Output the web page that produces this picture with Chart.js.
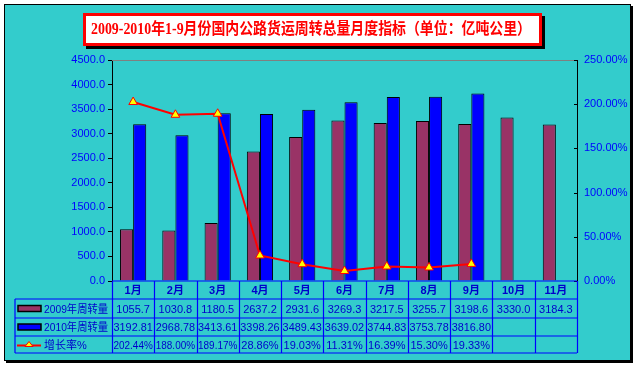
<!DOCTYPE html>
<html>
<head>
<meta charset="utf-8">
<script src="https://cdn.jsdelivr.net/npm/chart.js@4.4.0/dist/chart.umd.min.js"></script>
<style>
  html, body { margin: 0; padding: 0; background: #ffffff; }
  #wrap { width: 638px; height: 368px; }
</style>
</head>
<body>
<div id="wrap"><canvas id="chart" width="638" height="368"></canvas></div>
<script>
// 数据
const months = ['1月', '2月', '3月', '4月', '5月', '6月', '7月', '8月', '9月', '10月', '11月'];
const vol2009 = [1055.7, 1030.8, 1180.5, 2637.2, 2931.6, 3269.3, 3217.5, 3255.7, 3198.6, 3330.0, 3184.3];
const vol2010 = [3192.81, 2968.78, 3413.61, 3398.26, 3489.43, 3639.02, 3744.83, 3753.78, 3816.80, null, null];
const growth = [202.44, 188.00, 189.17, 28.86, 19.03, 11.31, 16.39, 15.30, 19.33, null, null];
const seriesNames = ['2009年周转量', '2010年周转量', '增长率%'];
const title = '2009-2010年1-9月份国内公路货运周转总量月度指标（单位：亿吨公里）';

const BLUE = '#0000ff';
const TXT = '#0000cc';
const FONT = '"Liberation Sans", Arial, sans-serif';

// 背景、标题、数据表
const decor = {
    id: 'decor',
    beforeDraw(chart) {
        const c = chart.ctx;
        c.save();
        c.fillStyle = '#ffffff';
        c.fillRect(0, 0, 638, 368);
        // 外框 + 阴影
        c.fillStyle = '#000';
        c.fillRect(6, 6, 627, 357);
        c.fillStyle = '#33cccc';
        c.fillRect(4, 4, 626, 356);
        c.strokeStyle = '#000';
        c.lineWidth = 1;
        c.strokeRect(4.5, 4.5, 626, 356);
        // 标题框
        c.fillStyle = '#000';
        c.fillRect(86, 16, 459, 33);
        c.fillStyle = '#ff0000';
        c.fillRect(83, 13, 459, 33);
        c.fillStyle = '#ffffff';
        c.fillRect(86, 16, 453, 27);
        c.fillStyle = '#ff0000';
        c.font = 'bold 16px "Liberation Serif", "Noto Sans CJK SC", serif';
        c.textAlign = 'center';
        c.textBaseline = 'middle';
        c.fillText(title, 311, 30, 440);
        c.restore();
    },
    afterDatasetsDraw(chart) {
        const c = chart.ctx;
        const a = chart.chartArea;
        const x = chart.scales.x;
        c.save();
        // 顶部灰线
        c.strokeStyle = '#808080';
        c.lineWidth = 1;
        c.beginPath();
        c.moveTo(a.left, a.top + 0.5);
        c.lineTo(a.right, a.top + 0.5);
        c.stroke();
        // 右轴内侧刻度
        c.strokeStyle = '#000';
        const y1 = chart.scales.y1;
        y1.ticks.forEach(t => {
            const py = Math.round(y1.getPixelForValue(t.value)) + 0.5;
            c.beginPath();
            c.moveTo(a.right - 3, py);
            c.lineTo(a.right, py);
            c.stroke();
        });

        // 数据表
        const rows = [a.bottom, 299, 318, 336, 353];
        const legendLeft = 15;
        const n = months.length;
        const colW = (a.right - a.left) / n;
        c.strokeStyle = BLUE;
        c.lineWidth = 1.2;
        c.beginPath();
        // 横线
        c.moveTo(a.left, rows[0]);
        c.lineTo(a.right, rows[0]);
        for (let r = 1; r < rows.length; r++) {
            c.moveTo(legendLeft, rows[r]);
            c.lineTo(a.right, rows[r]);
        }
        // 竖线
        c.moveTo(legendLeft, rows[1]);
        c.lineTo(legendLeft, rows[4]);
        for (let i = 0; i <= n; i++) {
            const px = Math.round(a.left + i * colW) + 0.5;
            c.moveTo(px, rows[0]);
            c.lineTo(px, rows[4]);
        }
        c.stroke();

        c.textAlign = 'center';
        c.textBaseline = 'middle';
        c.fillStyle = TXT;
        c.font = 'bold 11px "Liberation Sans", "Noto Sans CJK SC", sans-serif';
        months.forEach((m, i) => {
            c.fillText(m, x.getPixelForValue(i), (rows[0] + rows[1]) / 2 + 1);
        });
        c.font = '11px ' + FONT;
        const fmt = [
            v => v.toFixed(1),
            v => v.toFixed(2),
            v => v.toFixed(2) + '%'
        ];
        [vol2009, vol2010, growth].forEach((arr, r) => {
            const cy = (rows[r + 1] + rows[r + 2]) / 2 + 1;
            arr.forEach((v, i) => {
                if (v === null) return;
                c.fillText(fmt[r](v), x.getPixelForValue(i), cy, colW - 3);
            });
        });

        // 图例列
        const ds = chart.data.datasets;
        for (let r = 0; r < 3; r++) {
            const cy = (rows[r + 1] + rows[r + 2]) / 2;
            if (r < 2) {
                c.fillStyle = ds[r].backgroundColor;
                c.fillRect(18, cy - 3, 23, 6);
                c.strokeStyle = '#000';
                c.lineWidth = 1.5;
                c.strokeRect(18, cy - 3, 23, 6);
            } else {
                c.strokeStyle = '#ff0000';
                c.lineWidth = 2;
                c.beginPath();
                c.moveTo(17, cy + 1);
                c.lineTo(41, cy + 1);
                c.stroke();
                c.fillStyle = '#ffff00';
                c.strokeStyle = '#ff0000';
                c.lineWidth = 1;
                c.beginPath();
                c.moveTo(29, cy - 3);
                c.lineTo(33, cy + 2);
                c.lineTo(25, cy + 2);
                c.closePath();
                c.fill();
                c.stroke();
            }
            c.fillStyle = TXT;
            c.textAlign = 'left';
            c.font = '11px "Liberation Sans", "Noto Sans CJK SC", sans-serif';
            c.fillText(seriesNames[r], 44, cy + 1, 64);
        }
        c.restore();
    }
};

new Chart(document.getElementById('chart'), {
    type: 'bar',
    data: {
        labels: months,
        datasets: [{
            label: seriesNames[0],
            data: vol2009,
            backgroundColor: '#993366',
            borderColor: '#000',
            borderWidth: 1,
            yAxisID: 'y',
            order: 2
        }, {
            label: seriesNames[1],
            data: vol2010,
            backgroundColor: '#0000ff',
            borderColor: '#000',
            borderWidth: 1,
            yAxisID: 'y',
            order: 2
        }, {
            type: 'line',
            label: seriesNames[2],
            data: growth,
            borderColor: '#ff0000',
            borderWidth: 2,
            pointStyle: 'triangle',
            pointRadius: 5,
            pointBackgroundColor: '#ffff00',
            pointBorderColor: '#ff0000',
            pointBorderWidth: 1,
            yAxisID: 'y1',
            order: 1
        }]
    },
    options: {
        responsive: false,
        animation: false,
        events: [],
        layout: { padding: { left: 0, right: 0, top: 60, bottom: 87 } },
        datasets: {
            bar: { categoryPercentage: 0.62, barPercentage: 1.0, grouped: true }
        },
        plugins: {
            legend: { display: false },
            tooltip: { enabled: false }
        },
        scales: {
            x: {
                ticks: { display: false },
                grid: { display: false },
                border: { display: false },
                afterFit: s => { s.height = 0; }
            },
            y: {
                position: 'left',
                min: 0,
                max: 4500,
                ticks: {
                    stepSize: 500,
                    color: BLUE,
                    font: { family: FONT, size: 11 },
                    padding: 3,
                    callback: v => Number(v).toFixed(1)
                },
                grid: { drawOnChartArea: false, drawTicks: true, tickLength: 4, color: '#000' },
                border: { display: true, color: '#000', width: 1 },
                afterFit: s => { s.width = 112; }
            },
            y1: {
                position: 'right',
                min: 0,
                max: 250,
                ticks: {
                    stepSize: 50,
                    color: BLUE,
                    font: { family: FONT, size: 11 },
                    padding: 7,
                    callback: v => Number(v).toFixed(2) + '%'
                },
                grid: { drawOnChartArea: false, drawTicks: false },
                border: { display: true, color: '#000', width: 1 },
                afterFit: s => { s.width = 61; }
            }
        }
    },
    plugins: [decor]
});
</script>
</body>
</html>
